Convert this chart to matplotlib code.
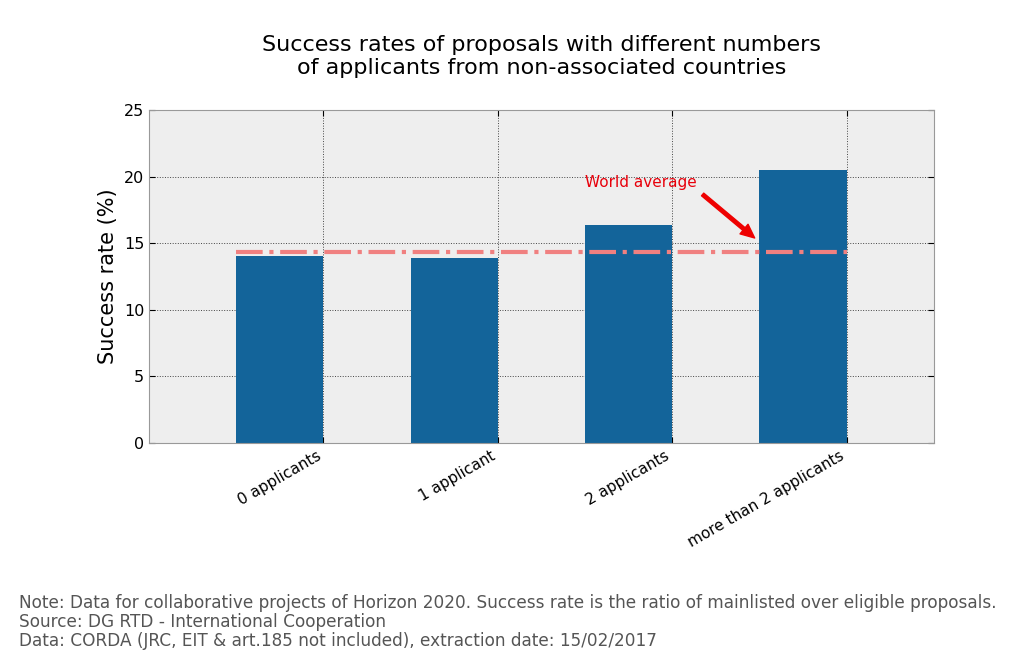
import numpy as np
import matplotlib
matplotlib.use("Agg")
import matplotlib.pyplot as plt

categorias = ["0 applicants", "1 applicant", "2 applicants", "more than 2 applicants"]
tasas = [14.05, 13.9, 16.35, 20.5]
media_mundial = 14.35

pos = np.arange(1, len(categorias) + 1)

fig = plt.figure(figsize=(10.24, 6.61), dpi=100)
ax = fig.add_axes([0.1455, 0.3298, 0.7665, 0.5038])
ax.set_facecolor("#eeeeee")

# barras alineadas a la izquierda del tick (como el matplotlib clásico)
ax.bar(pos, tasas, width=-0.5, align="edge", color="#13649a", edgecolor="none", zorder=2)

# linea de la media mundial
ax.plot([pos[0] - 0.5, pos[-1]], [media_mundial, media_mundial],
        linestyle="-.", color="#f08080", linewidth=3, zorder=3)
ax.annotate("World average", xy=(3.49, 15.2), xytext=(2.5, 19.25),
            color="#e8000b", fontsize=11,
            arrowprops=dict(color="#ee0000", width=2.5, headwidth=9, headlength=10, shrink=0.05))

ax.set_xlim(0, 4.5)
ax.set_ylim(0, 25)
ax.set_yticks(range(0, 26, 5))
ax.set_xticks(pos)
ax.set_xticklabels(categorias, rotation=30, ha="right", fontsize=11)
ax.tick_params(axis="y", labelsize=11.5)
ax.tick_params(direction="in", top=True, right=True, length=4)
ax.grid(True, linestyle=":", color="#444444", linewidth=0.7, zorder=1)
ax.set_axisbelow(True)
for s in ax.spines.values():
    s.set_color("#999999")

ax.set_ylabel("Success rate (%)", fontsize=15)
ax.set_title("Success rates of proposals with different numbers\nof applicants from non-associated countries",
             fontsize=16, pad=26)

nota = ("Note: Data for collaborative projects of Horizon 2020. Success rate is the ratio of mainlisted over eligible proposals.\n"
        "Source: DG RTD - International Cooperation\n"
        "Data: CORDA (JRC, EIT & art.185 not included), extraction date: 15/02/2017")
fig.text(0.019, 0.016, nota, fontsize=12.2, color="#555555", linespacing=1.08, va="bottom", ha="left")

fig.savefig("out.png", dpi=100)
